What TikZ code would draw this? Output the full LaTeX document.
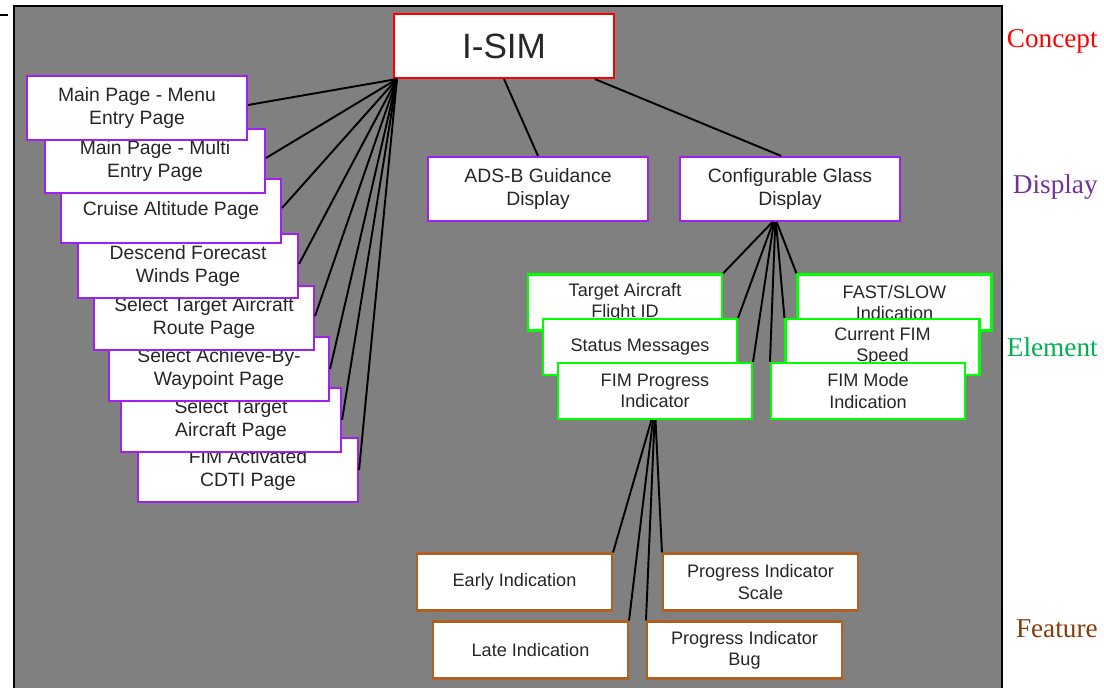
\documentclass[tikz,border=0pt]{standalone}
\usepackage{fontspec}
\setmainfont{Liberation Sans}
\newfontfamily\levelfont{Liberation Serif}

\definecolor{conceptred}{RGB}{255,0,0}
\definecolor{displaypurple}{RGB}{160,32,240}
\definecolor{elementgreen}{RGB}{0,255,0}
\definecolor{featurebrown}{RGB}{176,96,32}
\definecolor{panelgray}{RGB}{128,128,128}
\definecolor{displaytext}{RGB}{112,48,160}
\definecolor{elementtext}{RGB}{0,176,80}
\definecolor{featuretext}{RGB}{132,60,12}

\begin{document}
\begin{tikzpicture}[x=0.02cm, y=-0.02cm,
  whitebox/.style={rectangle, draw, fill=white, line width=1.2pt, inner sep=0pt, align=center, text=black!85},
  conceptbox/.style={whitebox, draw=conceptred, minimum width=4.4cm, minimum height=1.28cm, font=\fontsize{20}{24}\selectfont},
  displaybox/.style={whitebox, draw=displaypurple, minimum width=4.4cm, minimum height=1.28cm, font=\fontsize{11}{13}\selectfont},
  elementbox/.style={whitebox, draw=elementgreen, minimum width=3.88cm, minimum height=1.12cm, font=\fontsize{10.3}{12}\selectfont},
  featurebox/.style={whitebox, draw=featurebrown, minimum width=3.9cm, minimum height=1.14cm, font=\fontsize{10.3}{12}\selectfont},
  levellabel/.style={anchor=east, inner sep=0pt, font=\levelfont\fontsize{15.5}{18}\selectfont}]
  \useasboundingbox (0,0) rectangle (1104,688);
  \draw[fill=panelgray, line width=1.2pt] (14,6) rectangle (1002,700);
  \draw[line width=1.2pt] (0,15) -- (8,15);

  % concept
  \node[conceptbox] (isim) at (504,46) {I-SIM};
  \coordinate (hub) at ([xshift=0.08cm]isim.south west);

  % displays (pages stacked, upper ones on top)
  \node[displaybox] (cdti) at (248,470) {FIM Activated\\CDTI Page};
  \node[displaybox] (seltgt) at (231,420) {Select Target\\Aircraft Page};
  \node[displaybox] (achieve) at (219,369) {Select Achieve-By-\\Waypoint Page};
  \node[displaybox] (route) at (204,318) {Select Target Aircraft\\Route Page};
  \node[displaybox] (winds) at (188,266) {Descend Forecast\\Winds Page};
  \node[displaybox] (cruise) at (171,211) {Cruise Altitude Page};
  \node[displaybox] (multi) at (155,161) {Main Page - Multi\\Entry Page};
  \node[displaybox] (menu) at (137,108) {Main Page - Menu\\Entry Page};
  \node[displaybox] (adsb) at (538,189) {ADS-B Guidance\\Display};
  \node[displaybox] (glass) at (790,189) {Configurable Glass\\Display};

  % elements
  \node[elementbox] (tgtid) at (625,302.5) {Target Aircraft\\Flight ID};
  \node[elementbox] (status) at (640,347) {Status Messages};
  \node[elementbox] (progress) at (655,391) {FIM Progress\\Indicator};
  \node[elementbox] (fastslow) at (894.5,302.5) {FAST/SLOW\\Indication};
  \node[elementbox] (speed) at (882.5,347) {Current FIM\\Speed};
  \node[elementbox] (mode) at (868,391) {FIM Mode\\Indication};

  % features
  \node[featurebox] (early) at (514.5,582) {Early Indication};
  \node[featurebox] (scale) at (760.5,582) {Progress Indicator\\Scale};
  \node[featurebox] (late) at (530.5,650) {Late Indication};
  \node[featurebox] (bug) at (744.5,650) {Progress Indicator\\Bug};

  % connectors
  \draw[line width=1.1pt] (hub) -- ([yshift=0.06cm]menu.east);
  \draw[line width=1.1pt] (hub) -- ([yshift=0.06cm]multi.east);
  \draw[line width=1.1pt] (hub) -- ([yshift=0.06cm]cruise.east);
  \draw[line width=1.1pt] (hub) -- ([yshift=0.04cm]winds.east);
  \draw[line width=1.1pt] (hub) -- ([yshift=0.04cm]route.east);
  \draw[line width=1.1pt] (hub) -- (achieve.east);
  \draw[line width=1.1pt] (hub) -- (seltgt.east);
  \draw[line width=1.1pt] (hub) -- (cdti.east);
  \draw[line width=1.1pt] (isim.south) -- (adsb.north);
  \draw[line width=1.1pt] (isim.-20) -- (glass.105);
  \draw[line width=1.1pt] (glass.-118) -- (tgtid.north east);
  \draw[line width=1.1pt] (glass.-117) -- (status.north east);
  \draw[line width=1.1pt] (glass.-116) -- (progress.north east);
  \draw[line width=1.1pt] (glass.-114) -- (mode.north west);
  \draw[line width=1.1pt] (glass.-113) -- (speed.north west);
  \draw[line width=1.1pt] (glass.-112) -- (fastslow.north west);
  \draw[line width=1.1pt] (progress.-97) -- (early.north east);
  \draw[line width=1.1pt] (progress.-94) -- (late.north east);
  \draw[line width=1.1pt] (progress.-91) -- (bug.north west);
  \draw[line width=1.1pt] (progress.-89) -- (scale.north west);

  % level labels
  \node[levellabel, text=conceptred] (lconcept) at (1098,41) {Concept};
  \node[levellabel, text=displaytext] (ldisplay) at (1098,187) {Display};
  \node[levellabel, text=elementtext] (lelement) at (1098,347) {Element};
  \node[levellabel, text=featuretext] (lfeature) at (1098,629) {Feature};
\end{tikzpicture}
\end{document}
